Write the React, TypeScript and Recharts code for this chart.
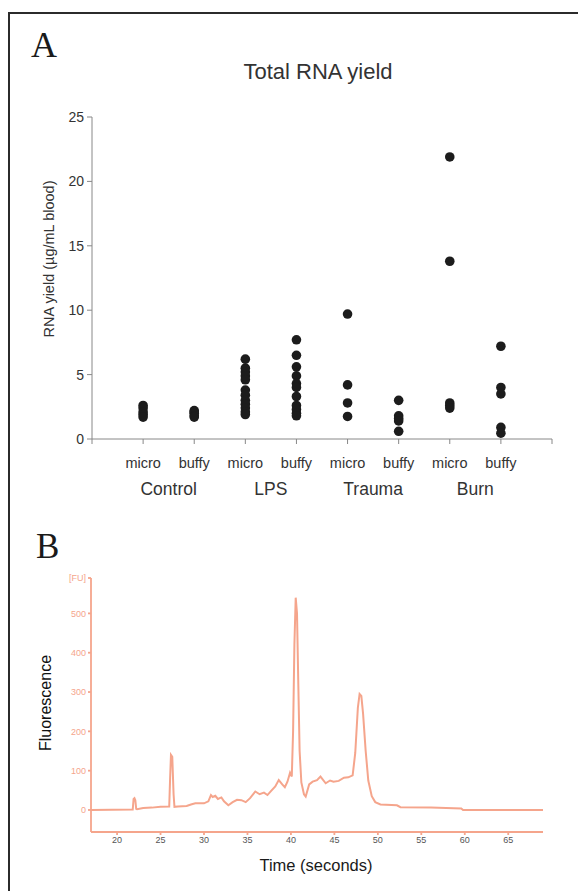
import { ScatterChart, Scatter, XAxis, YAxis, LineChart, Line } from "recharts"

// panel A: RNA yield per group and collection method
const groups = ["Control", "LPS", "Trauma", "Burn"]
const methods = ["micro", "buffy"]
const controlMicro = [2.6, 2.4, 2.1, 1.9, 1.7]
const controlBuffy = [2.2, 2.1, 2.0, 1.8, 1.7]
const lpsMicro = [6.2, 5.5, 5.2, 4.9, 4.6, 3.8, 3.4, 3.0, 2.7, 2.4, 2.1, 1.9]
const lpsBuffy = [7.7, 6.5, 5.6, 4.9, 4.3, 4.0, 3.3, 2.6, 2.3, 2.0, 1.8]
const traumaMicro = [9.7, 4.2, 2.8, 1.75]
const traumaBuffy = [3.0, 1.8, 1.6, 1.4, 0.6]
const burnMicro = [21.9, 13.8, 2.8, 2.6, 2.4]
const burnBuffy = [7.2, 4.0, 3.5, 0.9, 0.45]
const yieldTicks = [0, 5, 10, 15, 20, 25]
const slotTicks = [0, 1, 2, 3, 4, 5, 6, 7, 8, 9]

// panel B: electropherogram trace
const time = [
  17, 21.8, 21.9, 22.0, 22.1, 22.2, 22.3, 23, 24, 25, 26.0, 26.1, 26.2, 26.35, 26.5, 26.6, 27, 28, 28.5, 29, 30,
  30.5, 30.8, 31.0, 31.3, 31.6, 32.0, 32.3, 32.8, 33.3, 33.8, 34.3, 34.8, 35.3, 35.9, 36.4, 36.9, 37.3, 37.7,
  38.2, 38.6, 39.0, 39.3, 39.6, 39.9, 40.1, 40.25, 40.4, 40.55, 40.7, 40.85, 41.0, 41.2, 41.5, 41.7, 42.1, 42.5,
  43.0, 43.4, 44.0, 44.5, 44.9, 45.5, 46.1, 46.6, 47.1, 47.4, 47.7, 47.9, 48.1, 48.3, 48.6, 48.9, 49.3, 49.7,
  50.3, 52.2, 52.6, 56.1, 59.6, 59.8, 69,
]
const fluorescence = [
  0, 1, 28, 30, 25, 3, 2, 5, 6, 8, 9, 80, 140, 135, 40, 8, 9, 10, 14, 17, 17,
  22, 38, 33, 36, 28, 32, 22, 12, 20, 26, 25, 20, 30, 47, 40, 44, 38, 48,
  60, 76, 65, 58, 72, 95, 85, 200, 420, 540, 500, 320, 150, 70, 40, 34, 65, 72,
  76, 85, 68, 75, 72, 74, 82, 83, 88, 145, 260, 295, 290, 245, 150, 75, 35, 20,
  14, 12, 7, 6, 4, 0, 0,
]
const fuTicks = [0, 100, 200, 300, 400, 500, 590]
const timeTicks = [20, 25, 30, 35, 40, 45, 50, 55, 60, 65]

const series = [controlMicro, controlBuffy, lpsMicro, lpsBuffy, traumaMicro, traumaBuffy, burnMicro, burnBuffy]
const points = series.flatMap((vals, i) => vals.map((v) => ({ x: i + 1, y: v })))
const trace = time.map((t, i) => ({ t, f: fluorescence[i] }))

const SALMON = "#f5a58c"
const STEP = (552 - 92) / 9

function SlotTick({ x, y, payload }: any) {
  const v = payload.value
  if (v < 1 || v > 8) return <g />
  const k = (v - 1) % 2
  return (
    <g>
      <text x={x} y={y} dy={22} textAnchor="middle" fontSize={14.5} fill="#333">
        {methods[k]}
      </text>
      {k === 0 && (
        <text x={x + STEP / 2} y={y} dy={49} textAnchor="middle" fontSize={17.5} fill="#333">
          {groups[(v - 1) / 2]}
        </text>
      )}
    </g>
  )
}

export default function App() {
  return (
    <div
      style={{
        position: "absolute",
        left: 0,
        top: 0,
        width: 578,
        height: 891,
        overflow: "hidden",
        background: "#fff",
        fontFamily: "'Liberation Sans', Arial, sans-serif",
      }}
    >
      <div
        style={{
          position: "absolute",
          left: 8,
          top: 12,
          width: 620,
          height: 900,
          borderTop: "2px solid #2b2b2b",
          borderLeft: "2px solid #2b2b2b",
        }}
      />

      <div style={{ position: "absolute", left: 0, top: 0 }}>
        <ScatterChart width={578} height={520} margin={{ top: 117, right: 26, bottom: 21, left: 32 }}>
          <XAxis
            type="number"
            dataKey="x"
            domain={[0, 9]}
            ticks={slotTicks}
            interval={0}
            tick={<SlotTick />}
            tickSize={5}
            stroke="#888"
            height={60}
          />
          <YAxis
            type="number"
            dataKey="y"
            domain={[0, 25]}
            ticks={yieldTicks}
            tickSize={5}
            tickMargin={3}
            stroke="#888"
            tick={{ fill: "#333", fontSize: 14 }}
            width={60}
          />
          <Scatter
            data={points}
            isAnimationActive={false}
            shape={(p: any) => <circle cx={p.cx} cy={p.cy} r={4.8} fill="#1c1c1c" />}
          />
        </ScatterChart>
      </div>

      <div style={{ position: "absolute", left: 0, top: 520 }}>
        <LineChart width={578} height={371} data={trace} margin={{ top: 58, right: 35, bottom: 29, left: 51 }}>
          <XAxis
            type="number"
            dataKey="t"
            domain={[17, 69]}
            ticks={timeTicks}
            interval={0}
            tickSize={3}
            tickMargin={2}
            stroke={SALMON}
            strokeWidth={1.8}
            tick={{ fill: "#555", fontSize: 9 }}
            height={30}
          />
          <YAxis
            type="number"
            domain={[-56, 590]}
            ticks={fuTicks}
            interval={0}
            tickSize={3}
            tickMargin={2}
            stroke={SALMON}
            strokeWidth={1.8}
            tick={{ fill: SALMON, fontSize: 9 }}
            tickFormatter={(v: number) => (v === 590 ? "[FU]" : String(v))}
            width={40}
          />
          <Line
            type="linear"
            dataKey="f"
            stroke={SALMON}
            strokeWidth={2}
            dot={false}
            isAnimationActive={false}
          />
        </LineChart>
      </div>

      <svg width={578} height={891} style={{ position: "absolute", left: 0, top: 0, pointerEvents: "none" }}>
        <text x={31} y={57} fontSize={36} fontFamily="'Liberation Serif', serif" fill="#1a1a1a">
          A
        </text>
        <text x={36} y={558} fontSize={35} fontFamily="'Liberation Serif', serif" fill="#1a1a1a">
          B
        </text>
        <text x={318} y={79} textAnchor="middle" fontSize={22} fill="#333">
          Total RNA yield
        </text>
        <text
          transform="translate(49,259) rotate(-90)"
          textAnchor="middle"
          dominantBaseline="central"
          fontSize={14.5}
          fill="#333"
        >
          RNA yield (µg/mL blood)
        </text>
        <text
          transform="translate(45,703) rotate(-90)"
          textAnchor="middle"
          dominantBaseline="central"
          fontSize={16}
          fill="#111"
        >
          Fluorescence
        </text>
        <text x={316} y={865} textAnchor="middle" dominantBaseline="central" fontSize={16.5} fill="#1a1a1a">
          Time (seconds)
        </text>
      </svg>
    </div>
  )
}
